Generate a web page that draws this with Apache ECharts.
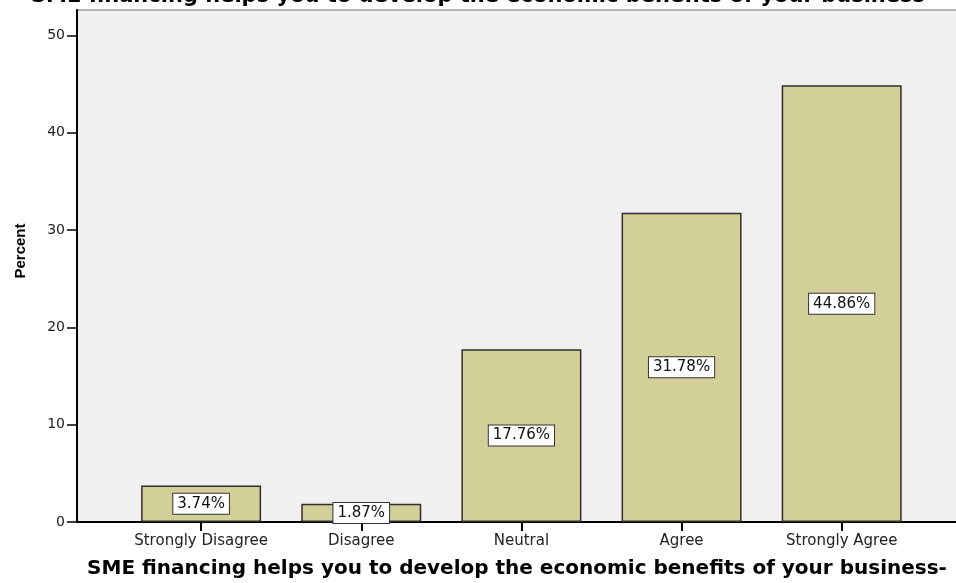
<!DOCTYPE html>
<html>
<head>
<meta charset="utf-8">
<script src="https://cdn.jsdelivr.net/npm/echarts@6/dist/echarts.min.js"></script>
<style>
  html, body { margin: 0; padding: 0; background: #ffffff; }
  #chart { width: 956px; height: 583px; }
</style>
</head>
<body>
<div id="chart"></div>
<script>
// Survey responses: share of respondents per answer
const categories = ['Strongly Disagree', 'Disagree', 'Neutral', 'Agree', 'Strongly Agree'];
const percents = [3.74, 1.87, 17.76, 31.78, 44.86];
const yTicks = [0, 10, 20, 30, 40, 50];
const chartTitle = 'SME financing helps you to develop the economic benefits of your business';
const xTitle = 'SME financing helps you to develop the economic benefits of your business-';
const yTitle = 'Percent';

const positions = categories.map((_, i) => i);
const barData = percents.map((v, i) => [i, v]);

const chart = echarts.init(document.getElementById('chart'), null, { renderer: 'canvas' });

const font = 'DejaVu Sans, Verdana, sans-serif';
const narrowBold = 'Liberation Sans Narrow, Liberation Sans, Arial, sans-serif';

chart.setOption({
  animation: false,
  backgroundColor: '#ffffff',
  title: {
    text: chartTitle,
    left: 'center',
    top: -14,
    padding: 0,
    textStyle: { fontFamily: font, fontSize: 21, fontWeight: 'bold', color: '#000' }
  },
  grid: {
    left: 77,
    right: -1,
    top: 10,
    bottom: 61,
    outerBoundsMode: 'none',
    containLabel: false,
    show: true,
    backgroundColor: '#f0f0f0',
    borderColor: '#6e6e6e',
    borderWidth: 1
  },
  xAxis: {
    type: 'value',
    min: -0.775,
    max: 4.72,
    name: xTitle,
    nameLocation: 'middle',
    nameGap: 37,
    nameTextStyle: { fontFamily: font, fontSize: 20, fontWeight: 'bold', color: '#000' },
    axisLine: { show: true, onZero: false, lineStyle: { color: '#000', width: 2 } },
    axisTick: {
      show: true,
      length: 9,
      customValues: positions,
      lineStyle: { color: '#000', width: 2 }
    },
    axisLabel: {
      customValues: positions,
      margin: 12,
      fontFamily: font,
      fontSize: 15,
      color: '#222',
      formatter: v => categories[Math.round(v)]
    },
    splitLine: { show: false }
  },
  yAxis: {
    type: 'value',
    min: 0,
    max: 52.6,
    interval: 10,
    name: yTitle,
    nameLocation: 'middle',
    nameRotate: 90,
    nameGap: 49,
    nameTextStyle: {
      fontFamily: narrowBold, fontSize: 15, fontWeight: 'bold', color: '#000',
      padding: [0, 0, 0, 30]
    },
    axisLine: { show: true, onZero: false, lineStyle: { color: '#000', width: 2 } },
    axisTick: {
      show: true,
      length: 10,
      customValues: yTicks,
      lineStyle: { color: '#000', width: 1.5 }
    },
    axisLabel: {
      customValues: yTicks,
      margin: 12,
      fontFamily: font,
      fontSize: 14,
      color: '#222'
    },
    splitLine: { show: false }
  },
  series: [{
    type: 'bar',
    data: barData,
    barWidth: 120,
    itemStyle: { color: '#d3cf98', borderColor: '#2e2e2e', borderWidth: 1.5 },
    label: {
      show: true,
      position: 'inside',
      formatter: p => p.value[1].toFixed(2) + '%',
      fontFamily: font,
      fontSize: 15,
      color: '#111',
      backgroundColor: '#ffffff',
      borderColor: '#333',
      borderWidth: 1,
      padding: [3, 4, 2, 4]
    }
  }]
});
</script>
</body>
</html>
